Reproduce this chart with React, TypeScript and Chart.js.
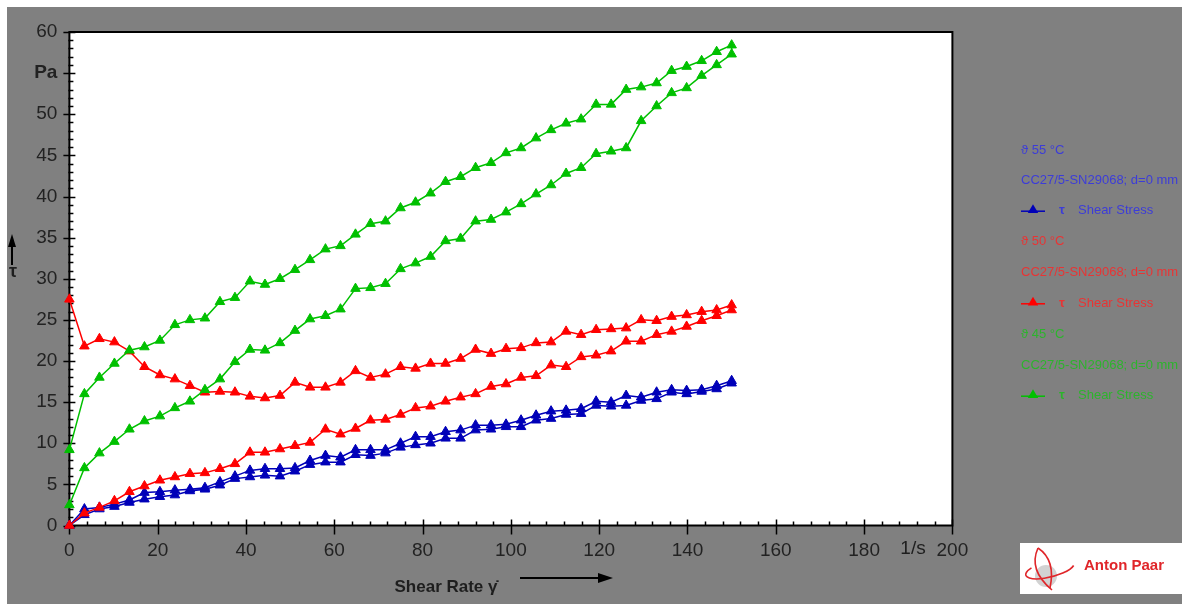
import React, { useEffect, useRef } from 'react';
import { Chart, registerables } from 'chart.js';

Chart.register(...registerables);

// Shear rate points of each ramp (1/s)
const shearRate = [0, 3.4, 6.8, 10.2, 13.6, 17, 20.5, 23.9, 27.3, 30.7, 34.1, 37.5, 40.9, 44.3, 47.7, 51.1, 54.5, 58, 61.4, 64.8, 68.2, 71.6, 75, 78.4, 81.8, 85.2, 88.6, 92, 95.5, 98.9, 102.3, 105.7, 109.1, 112.5, 115.9, 119.3, 122.7, 126.1, 129.5, 133, 136.4, 139.8, 143.2, 146.6, 150];

// Shear stress (Pa) – 55 °C
const blueUp = [0, 2.0, 2.2, 2.6, 3.1, 4.0, 4.1, 4.3, 4.4, 4.6, 5.3, 6.0, 6.7, 6.9, 6.9, 7.0, 7.9, 8.5, 8.3, 9.2, 9.2, 9.2, 10.0, 10.8, 10.8, 11.4, 11.6, 12.2, 12.2, 12.3, 12.8, 13.4, 13.9, 14.0, 14.2, 15.1, 15.0, 15.8, 15.6, 16.2, 16.5, 16.4, 16.5, 17.0, 17.6];
const blueDown = [0, 1.3, 2.0, 2.3, 2.8, 3.2, 3.5, 3.7, 4.2, 4.4, 4.9, 5.7, 5.9, 6.1, 6.0, 6.6, 7.4, 7.7, 7.7, 8.6, 8.5, 8.8, 9.5, 9.8, 10.0, 10.6, 10.6, 11.6, 11.7, 12.0, 12.0, 12.8, 13.0, 13.5, 13.6, 14.6, 14.5, 14.6, 15.2, 15.4, 16.2, 16.0, 16.3, 16.6, 17.3];

// Shear stress (Pa) – 50 °C
const redUp = [27.5, 21.8, 22.7, 22.3, 21.2, 19.3, 18.3, 17.8, 17.0, 16.2, 16.3, 16.2, 15.7, 15.5, 15.8, 17.4, 16.8, 16.8, 17.4, 18.8, 18.0, 18.4, 19.3, 19.1, 19.7, 19.7, 20.3, 21.4, 20.9, 21.5, 21.6, 22.2, 22.3, 23.6, 23.2, 23.8, 23.9, 24.0, 25.0, 24.9, 25.4, 25.6, 26.0, 26.2, 26.8];
const redDown = [0, 1.5, 2.2, 3.0, 4.1, 4.8, 5.5, 5.9, 6.3, 6.4, 6.9, 7.5, 8.9, 8.9, 9.3, 9.7, 10.1, 11.7, 11.1, 11.8, 12.8, 12.9, 13.5, 14.3, 14.5, 15.1, 15.6, 16.0, 16.9, 17.2, 18.0, 18.2, 19.5, 19.3, 20.5, 20.7, 21.2, 22.4, 22.4, 23.2, 23.6, 24.2, 24.9, 25.5, 26.2];

// Shear stress (Pa) – 45 °C
const greenUp = [9.2, 16.0, 18.0, 19.7, 21.3, 21.7, 22.5, 24.4, 25.0, 25.2, 27.2, 27.7, 29.7, 29.3, 30.0, 31.1, 32.3, 33.6, 34.0, 35.4, 36.7, 37.0, 38.6, 39.3, 40.4, 41.8, 42.4, 43.5, 44.1, 45.3, 45.9, 47.1, 48.1, 48.9, 49.4, 51.2, 51.2, 53.0, 53.3, 53.8, 55.3, 55.8, 56.5, 57.6, 58.4];
const greenDown = [2.5, 7.0, 8.8, 10.2, 11.7, 12.7, 13.3, 14.3, 15.1, 16.5, 17.8, 19.9, 21.4, 21.3, 22.2, 23.7, 25.1, 25.5, 26.3, 28.8, 28.9, 29.4, 31.2, 31.9, 32.7, 34.6, 34.9, 37.0, 37.2, 38.1, 39.1, 40.3, 41.4, 42.8, 43.5, 45.2, 45.5, 45.9, 49.2, 51.0, 52.6, 53.2, 54.7, 56.0, 57.3];

const legendTemps = ['ϑ 55 °C', 'ϑ 50 °C', 'ϑ 45 °C'];
const legendMeasure = 'CC27/5-SN29068; d=0 mm';
const legendSeries = 'Shear Stress';
const seriesColors = ['#0000b8', '#ff0000', '#00c000'];
const legendTextColors = ['#3c3cd8', '#e83434', '#2cb42c'];

const FONT = "'Liberation Sans', Arial, sans-serif";
const OFF = 7; // canvas offset on page

function loop(up: number[], down: number[]) {
  const pts = up.map((y, i) => ({ x: shearRate[i], y }));
  for (let i = down.length - 1; i >= 0; i--) pts.push({ x: shearRate[i], y: down[i] });
  return pts;
}

function tri(ctx: CanvasRenderingContext2D, x: number, y: number, r: number, color: string) {
  ctx.beginPath();
  ctx.moveTo(x, y - r);
  ctx.lineTo(x + r * 0.95, y + r * 0.6);
  ctx.lineTo(x - r * 0.95, y + r * 0.6);
  ctx.closePath();
  ctx.fillStyle = color;
  ctx.fill();
}

const decorPlugin = {
  id: 'decor',
  beforeDraw(chart: any) {
    const { ctx, width, height, chartArea: a } = chart;
    ctx.save();
    ctx.fillStyle = '#808080';
    ctx.fillRect(0, 0, width, height);
    ctx.fillStyle = '#ffffff';
    ctx.fillRect(a.left, a.top, a.right - a.left, a.bottom - a.top);
    ctx.restore();
  },
  beforeDatasetsDraw(chart: any) {
    const { ctx, chartArea: a, scales } = chart;
    const xs = scales.x;
    const ys = scales.y;
    ctx.save();
    ctx.strokeStyle = '#000';
    ctx.lineWidth = 2;
    ctx.strokeRect(a.left, a.top, a.right - a.left, a.bottom - a.top);
    ctx.lineWidth = 1.5;
    ctx.beginPath();
    for (let v = 0; v <= 200; v += 4) {
      const px = Math.round(xs.getPixelForValue(v)) + 0.5;
      if (v % 20 === 0) {
        ctx.moveTo(px, a.bottom - 6);
        ctx.lineTo(px, a.bottom + 9);
      } else {
        ctx.moveTo(px, a.bottom - 4);
        ctx.lineTo(px, a.bottom);
      }
    }
    for (let v = 0; v <= 60; v += 1) {
      const py = Math.round(ys.getPixelForValue(v)) + 0.5;
      if (v % 5 === 0) {
        ctx.moveTo(a.left - 6, py);
        ctx.lineTo(a.left + 6, py);
      } else {
        ctx.moveTo(a.left - 1, py);
        ctx.lineTo(a.left + 4, py);
      }
    }
    ctx.stroke();
    ctx.restore();
  },
  afterDraw(chart: any) {
    const { ctx } = chart;
    ctx.save();
    ctx.fillStyle = '#1e1e1e';
    ctx.strokeStyle = '#000';
    // y axis symbol + arrow
    ctx.font = `bold 18px ${FONT}`;
    ctx.textAlign = 'center';
    ctx.textBaseline = 'middle';
    ctx.fillText('τ', 13 - OFF, 272 - OFF);
    ctx.lineWidth = 2;
    ctx.beginPath();
    ctx.moveTo(12 - OFF, 265 - OFF);
    ctx.lineTo(12 - OFF, 244 - OFF);
    ctx.stroke();
    ctx.fillStyle = '#000';
    ctx.beginPath();
    ctx.moveTo(12 - OFF, 234 - OFF);
    ctx.lineTo(16 - OFF, 247 - OFF);
    ctx.lineTo(8 - OFF, 247 - OFF);
    ctx.closePath();
    ctx.fill();
    // x axis title + arrow
    ctx.fillStyle = '#1e1e1e';
    ctx.font = `bold 17px ${FONT}`;
    ctx.fillText('Shear Rate γ̇', 446 - OFF, 587 - OFF);
    ctx.beginPath();
    ctx.moveTo(520 - OFF, 578 - OFF);
    ctx.lineTo(600 - OFF, 578 - OFF);
    ctx.stroke();
    ctx.fillStyle = '#000';
    ctx.beginPath();
    ctx.moveTo(613 - OFF, 578 - OFF);
    ctx.lineTo(598 - OFF, 573 - OFF);
    ctx.lineTo(598 - OFF, 583 - OFF);
    ctx.closePath();
    ctx.fill();
    // unit
    ctx.fillStyle = '#1e1e1e';
    ctx.font = `19px ${FONT}`;
    ctx.fillText('1/s', 913 - OFF, 549 - OFF);

    // legend
    const rows = [150.7, 180.7, 210.7, 241.7, 272.7, 303.3, 334, 365, 395.7];
    ctx.textAlign = 'left';
    for (let s = 0; s < 3; s++) {
      const tc = legendTextColors[s];
      const y0 = rows[s * 3] - OFF;
      const y1 = rows[s * 3 + 1] - OFF;
      const y2 = rows[s * 3 + 2] - OFF;
      ctx.fillStyle = tc;
      ctx.font = `13px ${FONT}`;
      ctx.fillText(legendTemps[s], 1021 - OFF, y0);
      ctx.fillText(legendMeasure, 1021 - OFF, y1);
      ctx.strokeStyle = seriesColors[s];
      ctx.lineWidth = 1.5;
      ctx.beginPath();
      ctx.moveTo(1021 - OFF, y2 + 0.5);
      ctx.lineTo(1045 - OFF, y2 + 0.5);
      ctx.stroke();
      tri(ctx, 1033 - OFF, y2 - 1, 5.5, seriesColors[s]);
      ctx.fillStyle = tc;
      ctx.font = `bold 13px ${FONT}`;
      ctx.fillText('τ', 1059 - OFF, y2);
      ctx.font = `13px ${FONT}`;
      ctx.fillText(legendSeries, 1078 - OFF, y2);
    }

    // Anton Paar box
    ctx.fillStyle = '#ffffff';
    ctx.fillRect(1020 - OFF, 543 - OFF, 170, 51);
    ctx.fillStyle = '#d2d2d2';
    ctx.beginPath();
    ctx.arc(1046 - OFF, 576 - OFF, 11, 0, Math.PI * 2);
    ctx.fill();
    ctx.strokeStyle = '#e0262a';
    ctx.lineWidth = 1.6;
    ctx.beginPath();
    ctx.ellipse(1050 - OFF, 569 - OFF, 25, 8, -0.25, Math.PI * 0.1, Math.PI * 1.25);
    ctx.stroke();
    ctx.beginPath();
    ctx.moveTo(1038 - OFF, 548 - OFF);
    ctx.quadraticCurveTo(1028 - OFF, 570 - OFF, 1052 - OFF, 590 - OFF);
    ctx.stroke();
    ctx.beginPath();
    ctx.moveTo(1038 - OFF, 548 - OFF);
    ctx.quadraticCurveTo(1056 - OFF, 560 - OFF, 1050 - OFF, 588 - OFF);
    ctx.stroke();
    ctx.fillStyle = '#e0262a';
    ctx.font = `bold 15px ${FONT}`;
    ctx.textBaseline = 'middle';
    ctx.fillText('Anton Paar', 1084 - OFF, 566 - OFF);
    ctx.restore();
  },
};

export default function App() {
  const ref = useRef<HTMLCanvasElement | null>(null);
  useEffect(() => {
    if (!ref.current) return;
    const mk = (label: string, data: any[], color: string) => ({
      label,
      data,
      borderColor: color,
      backgroundColor: color,
      borderWidth: 1.5,
      pointStyle: 'triangle',
      pointRadius: 5.5,
      pointBorderWidth: 1,
      pointBorderColor: color,
      pointBackgroundColor: color,
      tension: 0,
      clip: false as any,
    });
    const chart = new Chart(ref.current, {
      type: 'line',
      data: {
        datasets: [
          mk('45 °C', loop(greenUp, greenDown), seriesColors[2]),
          mk('50 °C', loop(redUp, redDown), seriesColors[1]),
          mk('55 °C', loop(blueUp, blueDown), seriesColors[0]),
        ],
      },
      options: {
        animation: false,
        responsive: true,
        maintainAspectRatio: false,
        layout: { padding: { left: 0, top: 25, right: 229.6, bottom: 0 } },
        plugins: { legend: { display: false }, tooltip: { enabled: false }, title: { display: false } },
        scales: {
          x: {
            type: 'linear',
            min: 0,
            max: 200,
            grid: { display: false },
            border: { display: false },
            ticks: {
              stepSize: 20,
              padding: 6,
              color: '#222',
              font: { family: FONT, size: 19 },
              maxRotation: 0,
              autoSkip: false,
            },
            afterFit(scale: any) { scale.height = 78.5; },
          },
          y: {
            type: 'linear',
            min: 0,
            max: 60,
            grid: { display: false },
            border: { display: false },
            ticks: {
              stepSize: 5,
              padding: 4,
              color: '#222',
              autoSkip: false,
              font: (c: any) => ({ family: FONT, size: 19, weight: c.tick && c.tick.value === 55 ? 'bold' : 'normal' }),
              callback: (v: any) => (v === 55 ? 'Pa' : String(v)),
            },
            afterFit(scale: any) { scale.width = 62.4; },
          },
        },
      },
      plugins: [decorPlugin],
    });
    return () => chart.destroy();
  }, []);
  return (
    <div style={{ position: 'absolute', left: 0, top: 0, width: 1182, height: 604, background: '#fff', overflow: 'hidden' }}>
      <div style={{ position: 'absolute', left: OFF, top: OFF, width: 1175, height: 597 }}>
        <canvas ref={ref} />
      </div>
    </div>
  );
}
